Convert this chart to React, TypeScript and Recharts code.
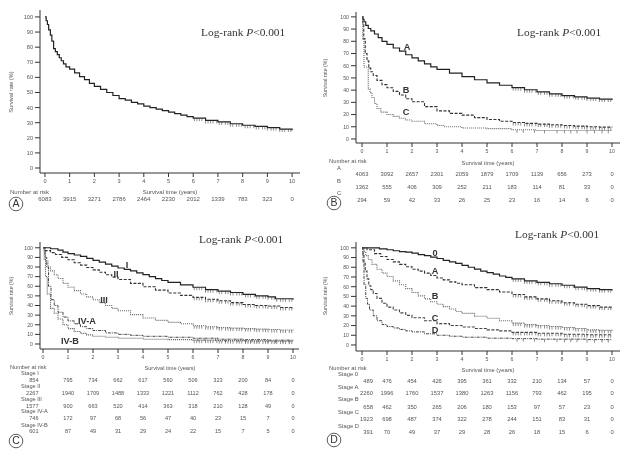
import React from 'react';
import { LineChart, Line, XAxis, YAxis } from 'recharts';

type Pt = [number, number];

// ---- survival curves (time in years, survival %) ----
const aAll: Pt[] = [[0,100],[0.05,97.5],[0.1,95],[0.15,91.5],[0.22,88],[0.28,84],[0.35,79],[0.42,77],[0.5,75],[0.58,73],[0.66,71],[0.75,69],[0.85,67],[1,65.5],[1.2,63],[1.4,60.5],[1.6,58.5],[1.8,56],[2,54],[2.25,52],[2.5,50],[2.75,48],[3,46],[3.25,45],[3.5,43.5],[3.75,42.5],[4,41],[4.25,40],[4.5,39],[4.75,38],[5,37],[5.25,36],[5.5,35],[5.75,34],[6,33],[6.5,31.5],[7,30.5],[7.5,29.3],[8,28.3],[8.5,27.5],[9,26.7],[9.5,25.8],[10,25]];

const bA: Pt[] = [[0,100],[0.04,98],[0.08,96],[0.15,93],[0.25,90.5],[0.35,88.5],[0.5,86],[0.65,83],[0.8,80],[1,77.5],[1.25,74.5],[1.5,72],[1.75,69],[2,66.5],[2.25,64],[2.5,61.5],[2.75,59],[3,57],[3.5,54],[4,51],[4.5,48.5],[5,46],[5.5,44],[6,42],[6.5,40.3],[7,38.5],[7.5,37],[8,35.5],[8.5,34.5],[9,33.5],[9.5,32.7],[10,32]];
const bB: Pt[] = [[0,100],[0.03,95],[0.07,82],[0.13,70],[0.2,64],[0.27,58],[0.35,55],[0.45,52],[0.6,48],[0.8,44.5],[1,42],[1.25,39],[1.5,36],[1.75,33],[2,30.5],[2.5,26.5],[3,23],[3.5,21],[4,19.5],[4.5,17.5],[5,16],[5.5,14.5],[6,13.5],[6.5,12.8],[7,12.2],[7.5,11.6],[8,11],[8.5,10.5],[9,10],[9.5,9.7],[10,9.5]];
const bC: Pt[] = [[0,100],[0.03,82],[0.08,59],[0.25,41],[0.32,38],[0.4,34],[0.5,29],[0.6,25],[0.75,22],[1,20],[1.25,18.5],[1.5,17],[1.75,15.5],[2,14.5],[2.5,12.5],[3,11],[3.3,10],[4,9],[5,8.5],[6,7.5],[7,7],[8,7],[9,7],[10,7]];

const cI: Pt[] = [[0,100],[0.3,99],[0.6,97.5],[0.8,95.5],[1,94],[1.25,92.5],[1.5,91],[1.75,89],[2,87],[2.25,85],[2.5,83],[2.75,81],[3,79],[3.25,77.5],[3.5,76],[3.75,74],[4,72],[4.25,70],[4.5,68],[4.75,66],[5,64],[5.5,61.5],[6,59],[6.5,56.5],[7,55],[7.5,53.5],[8,51.5],[8.5,50],[9,49],[9.3,47],[10,46]];
const cII: Pt[] = [[0,100],[0.1,97],[0.3,95],[0.5,93],[0.75,90],[1,87.5],[1.25,84.5],[1.5,82],[1.75,79.5],[2,77],[2.25,74.5],[2.5,72],[2.75,69.5],[3,67],[3.5,63],[4,59.5],[4.5,56],[5,53],[5.5,50.5],[6,48.5],[6.5,46.5],[7,45],[7.5,43],[8,41],[8.5,40],[9,39.5],[9.5,38],[10,37]];
const cIII: Pt[] = [[0,100],[0.05,96],[0.1,86],[0.2,80],[0.3,76],[0.45,72],[0.6,68],[0.8,63],[1,59],[1.25,55.5],[1.5,52],[1.75,49],[2,46],[2.25,43],[2.5,40],[2.75,37],[3,34.5],[3.5,30.5],[4,27],[4.5,24.5],[5,22.5],[5.5,21],[6,19],[6.5,18],[7,17],[7.5,16.5],[8,16],[8.5,15.5],[9,15],[9.5,14.5],[10,14]];
const cIVA: Pt[] = [[0,100],[0.08,90],[0.15,80],[0.22,60],[0.32,46],[0.45,40],[0.6,33],[0.8,28],[1,24],[1.25,21],[1.5,18],[1.75,16],[2,14],[2.5,11.5],[3,10],[3.5,9],[4,8],[5,7],[6,6],[7,5],[8,4.5],[9,4],[10,3.5]];
const cIVB: Pt[] = [[0,100],[0.05,88],[0.1,70],[0.17,52],[0.3,37],[0.45,32],[0.6,26],[0.8,20],[1,16],[1.25,13],[1.5,11],[1.75,9.5],[2,8],[2.5,7],[3,6],[4,5],[5,4.5],[6,4],[7,3.5],[8,3.2],[9,3],[10,2.5]];

const d0: Pt[] = [[0,100],[0.5,100],[0.7,99],[1,98],[1.25,97],[1.5,96],[1.75,95.5],[2,94.5],[2.25,93],[2.5,92],[2.75,90.5],[3,89],[3.25,87],[3.5,85.5],[3.75,84],[4,82],[4.25,80],[4.5,78],[4.75,76],[5,74.5],[5.25,73],[5.5,71],[5.75,69.5],[6,68],[6.5,66],[7,64.5],[7.5,63],[8,61.5],[8.5,59.5],[9,58],[9.5,57],[10,56]];
const dA: Pt[] = [[0,100],[0.2,98],[0.5,94],[0.75,91],[1,88],[1.25,85.5],[1.5,83],[1.75,80.5],[2,78],[2.25,76],[2.5,74],[2.75,71.5],[3,69],[3.25,67],[3.5,65],[3.75,63.5],[4,62],[4.5,59],[5,57],[5.5,54.5],[6,52],[6.5,49.5],[7,47.5],[7.5,45.5],[8,43.5],[8.5,42],[9,40.5],[9.5,39],[10,37.5]];
const dB: Pt[] = [[0,100],[0.08,96],[0.15,92],[0.25,88],[0.4,83],[0.6,78],[0.8,74],[1,70.5],[1.25,66],[1.5,62],[1.75,58],[2,54],[2.25,50.5],[2.5,47.5],[2.75,44.5],[3,42],[3.25,39.5],[3.5,37],[3.75,34.5],[4,32.5],[4.5,29.5],[5,27.5],[5.5,25],[6,22.5],[6.5,21],[7,20],[7.5,19],[8,18],[8.5,17],[9,15.5],[9.5,15],[10,14.5]];
const dC: Pt[] = [[0,100],[0.04,92],[0.08,84],[0.13,76],[0.2,68],[0.27,61],[0.35,57],[0.45,53],[0.6,48],[0.8,43],[1,39],[1.25,36],[1.5,33],[1.75,30.5],[2,28],[2.5,25],[3,22],[3.5,20],[4,18.5],[4.5,17],[5,15.5],[5.5,14.5],[6,13],[7,12],[8,11],[9,10.5],[10,10]];
const dD: Pt[] = [[0,100],[0.04,85],[0.08,62],[0.15,48],[0.22,42],[0.3,36],[0.45,30],[0.6,25],[0.8,21],[1,19],[1.25,17.5],[1.5,16],[1.75,14.5],[2,13.5],[2.5,11.5],[3,10],[3.5,9],[4,8],[5,7],[6,6.5],[7,6],[8,6],[9,5.5],[10,5.5]];

// censoring marks
const censorDense = [6.05,6.15,6.25,6.35,6.5,6.6,6.7,6.8,6.95,7.05,7.15,7.3,7.4,7.5,7.6,7.75,7.85,7.95,8.1,8.2,8.3,8.45,8.55,8.65,8.8,8.9,9.0,9.15,9.25,9.35,9.5,9.6,9.7,9.85,9.95];
const censorSparse = [6.2,6.45,6.9,7.3,7.8,8.1,8.35,8.6,9.0,9.3,9.6,9.85];

// number at risk
const years = [0,1,2,3,4,5,6,7,8,9,10];
const riskA = [6083,3915,3271,2786,2464,2230,2012,1339,783,323,0];
const riskB_A = [4063,3092,2657,2301,2059,1879,1709,1139,656,273,0];
const riskB_B = [1362,555,406,309,252,211,183,114,81,33,0];
const riskB_C = [294,59,42,33,26,25,23,16,14,6,0];
const riskC_I = [854,795,734,662,617,560,506,323,200,84,0];
const riskC_II = [2267,1940,1709,1488,1333,1221,1112,762,428,178,0];
const riskC_III = [1577,900,663,520,414,363,318,210,128,49,0];
const riskC_IVA = [746,172,97,68,56,47,40,23,15,7,0];
const riskC_IVB = [601,87,49,31,29,24,22,15,7,5,0];
const riskD_0 = [489,476,454,426,395,361,332,210,134,57,0];
const riskD_A = [2260,1996,1760,1537,1380,1263,1156,793,462,195,0];
const riskD_B = [658,462,350,265,206,180,153,97,57,23,0];
const riskD_C = [1923,698,487,374,322,278,244,151,83,31,0];
const riskD_D = [391,70,49,37,29,28,26,18,15,6,0];

const yTicks = [0,10,20,30,40,50,60,70,80,90,100];

const SANS = '"Liberation Sans", Arial, sans-serif';
const SERIF = '"Liberation Serif", "Times New Roman", serif';
const PW = 313;
const PH = 225;
const TXT = '#555';

function withCensors(pts: Pt[], cens: number[]) {
  const rows = pts.map(([t, s]) => ({ t, s, c: false }));
  cens.forEach((c) => {
    let s = pts[0][1];
    pts.forEach(([t, v]) => { if (t <= c) s = v; });
    rows.push({ t: c, s, c: true });
  });
  return rows.sort((a, b) => a.t - b.t);
}

const censorDot = (props: any) => {
  const { cx, cy, payload, key } = props;
  if (!payload || !payload.c || cx == null) return <g key={key} />;
  return <line key={key} x1={cx} y1={cy} x2={cx} y2={cy + 3} stroke="#444" strokeWidth={0.6} />;
};

type Series = { pts: Pt[]; cens: number[]; dash?: string; color: string; w: number };
type RiskRow = { label?: string; lx: number; ly: number; vy: number; vals: number[] };

type PanelCfg = {
  ox: number; oy: number;
  pl: number; pr: number; pt: number; pb: number;
  xd: [number, number]; yd: [number, number];
  tickFs: number; tableFs: number;
  series: Series[];
  letter: string; circle: [number, number];
  logrank: [number, number];
  yLabel: [number, number];
  nar: [number, number];
  stx: [number, number];
  firstCol?: number; // right edge of the first column when it is not centred on tick 0
  rows: RiskRow[];
  labels: { text: string; x: number; y: number }[];
};

const solid = { color: '#222', w: 1.2 };
const dashed = { color: '#333', w: 1.1, dash: '3 1.5' };
const dotted = { color: '#666', w: 1.1, dash: '1 1' };
const dashDot = { color: '#444', w: 1.0, dash: '3 1 1 1' };

const panels: PanelCfg[] = [
  {
    ox: 0, oy: 0, pl: 40, pr: 300, pt: 10, pb: 173, xd: [-0.2, 10.32], yd: [-3.3, 104.6],
    tickFs: 5.6, tableFs: 6,
    series: [{ pts: aAll, cens: censorDense, ...solid }],
    letter: 'A', circle: [16, 204], logrank: [201, 33], yLabel: [12, 92], nar: [10, 192], stx: [170, 192],
    rows: [{ lx: 0, ly: 0, vy: 199, vals: riskA }],
    labels: [],
  },
  {
    ox: 313, oy: 0, pl: 356, pr: 620, pt: 12, pb: 143, xd: [-0.24, 10.32], yd: [-3.3, 104],
    tickFs: 5.2, tableFs: 5.8,
    series: [
      { pts: bA, cens: censorDense, ...solid },
      { pts: bB, cens: censorDense, ...dashed },
      { pts: bC, cens: censorSparse, ...dotted },
    ],
    letter: 'B', circle: [21, 203], logrank: [204, 33], yLabel: [13, 78], nar: [16, 161], stx: [175, 163],
    rows: [
      { label: 'A', lx: 26, ly: 168, vy: 174, vals: riskB_A },
      { label: 'B', lx: 26, ly: 181, vy: 187, vals: riskB_B },
      { label: 'C', lx: 26, ly: 193, vy: 200, vals: riskB_C },
    ],
    labels: [{ text: 'A', x: 94, y: 48 }, { text: 'B', x: 93, y: 91 }, { text: 'C', x: 93, y: 113 }],
  },
  {
    ox: 0, oy: 225, pl: 40, pr: 299, pt: 242, pb: 349, xd: [-0.12, 10.24], yd: [-5.2, 106],
    tickFs: 5.2, tableFs: 5.6,
    series: [
      { pts: cI, cens: censorDense, ...solid },
      { pts: cII, cens: censorDense, ...dashed },
      { pts: cIII, cens: censorDense, ...dotted },
      { pts: cIVA, cens: censorSparse, ...dashDot },
      { pts: cIVB, cens: censorDense, ...dotted, color: '#555' },
    ],
    letter: 'C', circle: [16, 216], logrank: [199, 15], yLabel: [12, 71], nar: [10, 143], stx: [170, 144],
    firstCol: 38.5,
    rows: [
      { label: 'Stage I', lx: 21, ly: 149, vy: 156, vals: riskC_I },
      { label: 'Stage II', lx: 21, ly: 162, vy: 169, vals: riskC_II },
      { label: 'Stage III', lx: 21, ly: 175, vy: 182, vals: riskC_III },
      { label: 'Stage IV-A', lx: 21, ly: 187, vy: 194, vals: riskC_IVA },
      { label: 'Stage IV-B', lx: 21, ly: 201, vy: 207, vals: riskC_IVB },
    ],
    labels: [
      { text: 'I', x: 127, y: 41 }, { text: 'II', x: 116, y: 50 }, { text: 'III', x: 104, y: 76 },
      { text: 'IV-A', x: 87, y: 97 }, { text: 'IV-B', x: 70, y: 117 },
    ],
  },
  {
    ox: 313, oy: 225, pl: 356, pr: 620, pt: 242, pb: 351, xd: [-0.24, 10.32], yd: [-6.2, 106],
    tickFs: 5.2, tableFs: 5.8,
    series: [
      { pts: d0, cens: censorDense, ...solid },
      { pts: dA, cens: censorDense, ...dashed },
      { pts: dB, cens: censorDense, ...dotted },
      { pts: dC, cens: censorDense, ...dashed, color: '#444' },
      { pts: dD, cens: censorSparse, ...dashDot },
    ],
    letter: 'D', circle: [21, 215], logrank: [202, 10], yLabel: [13, 71], nar: [16, 143], stx: [175, 145],
    firstCol: 60,
    rows: [
      { label: 'Stage 0', lx: 25, ly: 149, vy: 156, vals: riskD_0 },
      { label: 'Stage A', lx: 25, ly: 162, vy: 168, vals: riskD_A },
      { label: 'Stage B', lx: 25, ly: 174, vy: 182, vals: riskD_B },
      { label: 'Stage C', lx: 25, ly: 187, vy: 194, vals: riskD_C },
      { label: 'Stage D', lx: 25, ly: 201, vy: 207, vals: riskD_D },
    ],
    labels: [
      { text: '0', x: 122, y: 29 }, { text: 'A', x: 122, y: 47 }, { text: 'B', x: 122, y: 72 },
      { text: 'C', x: 122, y: 94 }, { text: 'D', x: 122, y: 106 },
    ],
  },
];

const Y_W = 30;
const X_H = 20;

function Panel({ cfg }: { cfg: PanelCfg }) {
  const margin = {
    left: cfg.pl - cfg.ox - Y_W,
    right: cfg.ox + PW - cfg.pr,
    top: cfg.pt - cfg.oy,
    bottom: cfg.oy + PH - cfg.pb - X_H,
  };
  const tickStyle = { fontSize: cfg.tickFs, fill: TXT, fontFamily: SANS };
  // pixel x of a time value, relative to the panel
  const xAt = (t: number) =>
    cfg.pl - cfg.ox + ((t - cfg.xd[0]) / (cfg.xd[1] - cfg.xd[0])) * (cfg.pr - cfg.pl);
  const fs = cfg.tableFs;

  return (
    <div style={{ position: 'absolute', left: cfg.ox, top: cfg.oy, width: PW, height: PH, willChange: 'transform' }}>
      <LineChart width={PW} height={PH} margin={margin}>
        <XAxis
          type="number" dataKey="t" domain={cfg.xd} ticks={years} allowDataOverflow
          height={X_H} tick={tickStyle} tickSize={4} tickMargin={2}
          stroke="#333" tickLine={{ stroke: '#333' }} interval={0}
        />
        <YAxis
          type="number" dataKey="s" domain={cfg.yd} ticks={yTicks} allowDataOverflow
          width={Y_W} tick={tickStyle} tickSize={5} tickMargin={2}
          stroke="#333" tickLine={{ stroke: '#333' }} interval={0}
        />
        {cfg.series.map((s, i) => (
          <Line
            key={i}
            data={withCensors(s.pts, s.cens)}
            dataKey="s"
            type="stepAfter"
            stroke={s.color}
            strokeWidth={s.w}
            strokeDasharray={s.dash}
            dot={censorDot}
            activeDot={false}
            isAnimationActive={false}
          />
        ))}
      </LineChart>
      <svg width={PW} height={PH} style={{ position: 'absolute', left: 0, top: 0, pointerEvents: 'none' }}>
        <text x={cfg.logrank[0]} y={cfg.logrank[1]} dominantBaseline="middle" fontFamily={SERIF} fontSize={11.4} fill="#333">
          Log-rank <tspan fontStyle="italic">P</tspan>{'<0.001'}
        </text>
        <text
          x={cfg.yLabel[0]} y={cfg.yLabel[1]} fontFamily={SANS} fontSize={cfg.tickFs} fill={TXT}
          textAnchor="middle" dominantBaseline="middle"
          transform={`rotate(-90 ${cfg.yLabel[0]} ${cfg.yLabel[1]})`}
        >
          Survival rate (%)
        </text>
        <text x={cfg.nar[0]} y={cfg.nar[1]} fontFamily={SANS} fontSize={fs} fill={TXT} dominantBaseline="middle">
          Number at risk
        </text>
        <text x={cfg.stx[0]} y={cfg.stx[1]} fontFamily={SANS} fontSize={fs} fill={TXT} textAnchor="middle" dominantBaseline="middle">
          Survival time (years)
        </text>
        {cfg.rows.map((r, ri) => (
          <g key={ri}>
            {r.label && (
              <text x={r.lx} y={r.ly} fontFamily={SANS} fontSize={fs} fill={TXT}
                textAnchor={r.label.length === 1 ? 'middle' : 'start'} dominantBaseline="middle">
                {r.label}
              </text>
            )}
            {r.vals.map((v, i) => {
              const first = i === 0 && cfg.firstCol != null;
              return (
                <text key={i} x={first ? cfg.firstCol : xAt(years[i])} y={r.vy} fontFamily={SANS} fontSize={fs} fill={TXT}
                  textAnchor={first ? 'end' : 'middle'} dominantBaseline="middle">
                  {v}
                </text>
              );
            })}
          </g>
        ))}
        {cfg.labels.map((l, i) => (
          <text key={i} x={l.x} y={l.y} fontFamily={SANS} fontSize={9.2} fontWeight="bold" fill="#333"
            textAnchor="middle" dominantBaseline="middle">
            {l.text}
          </text>
        ))}
        <circle cx={cfg.circle[0]} cy={cfg.circle[1]} r={6.8} fill="none" stroke="#333" strokeWidth={0.8} />
        <text x={cfg.circle[0]} y={cfg.circle[1] + 0.5} fontFamily={SANS} fontSize={10.5} fill="#333"
          textAnchor="middle" dominantBaseline="middle">
          {cfg.letter}
        </text>
      </svg>
    </div>
  );
}

export default function App() {
  return (
    <div style={{ position: 'absolute', left: 0, top: 0, width: 626, height: 449, overflow: 'hidden', background: '#fff' }}>
      {panels.map((p, i) => (
        <Panel key={i} cfg={p} />
      ))}
    </div>
  );
}
